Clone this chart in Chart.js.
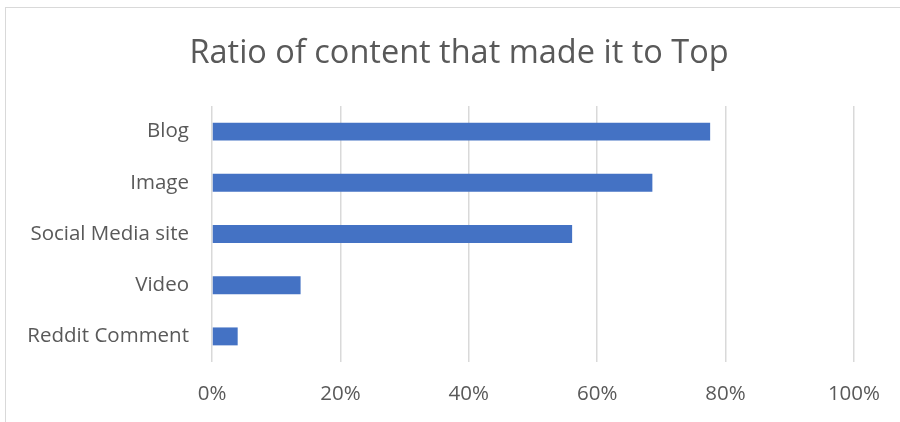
<!DOCTYPE html>
<html>
<head>
<meta charset="utf-8">
<script src="https://cdn.jsdelivr.net/npm/chart.js@4/dist/chart.umd.min.js"></script>
<style>
  body { margin: 0; background: #fff; }
  #wrap { position: relative; width: 900px; height: 422px; }
  #frame { position: absolute; left: 5px; top: 7px; width: 920px; height: 440px; border: 1px solid #d9d9d9; pointer-events: none; }
</style>
</head>
<body>
<div id="wrap">
  <canvas id="topChart" width="900" height="422"></canvas>
  <div id="frame"></div>
</div>
<script>
const categories = ["Blog", "Image", "Social Media site", "Video", "Reddit Comment"];
const ratios = [77.6, 68.6, 56.1, 13.8, 4.0];
const xTicks = [0, 20, 40, 60, 80, 100];

const textColor = '#595959';
const gridColor = '#d9d9d9';

const ctx = document.getElementById("topChart");

const topData = {
  labels: categories,
  datasets: [{
    data: ratios,
    backgroundColor: '#4472c4',
    barPercentage: 0.35,
    categoryPercentage: 1
  }]
}

const topOptions = {
  responsive: false,
  animation: false,
  indexAxis: "y",
  layout: {
    padding: { left: 18, right: 0, top: 0, bottom: 0 }
  },
  scales: {
    x: {
      min: 0,
      max: 100,
      afterBuildTicks: (scale) => {
        scale.ticks = xTicks.map(v => ({ value: v }));
      },
      afterFit: (scale) => { scale.height = 60; },
      ticks: {
        color: textColor,
        padding: 20,
        font: { family: 'Open Sans', size: 20.5 },
        callback: (v) => v + '%'
      },
      grid: {
        color: gridColor,
        lineWidth: 1.5,
        drawTicks: false
      },
      border: { display: false }
    },
    y: {
      afterFit: (scale) => { scale.width = 194; },
      ticks: {
        color: textColor,
        padding: 23,
        font: { family: 'Open Sans', size: 20.5 }
      },
      grid: { display: false, drawTicks: false },
      border: { display: false }
    },
    // empty right-hand strip so the plot ends where the original does
    yRight: {
      type: 'category',
      position: 'right',
      afterFit: (scale) => { scale.width = 45; },
      ticks: { display: false },
      grid: { display: false, drawTicks: false },
      border: { display: false }
    }
  },
  plugins: {
    legend: { display: false },
    tooltip: { enabled: false },
    title: {
      display: true,
      text: 'Ratio of content that made it to Top',
      color: textColor,
      font: { family: 'Open Sans', size: 32.5, weight: 'normal' },
      padding: { top: 34, bottom: 33 }
    }
  }
}

let topChart = new Chart(ctx, {type: 'bar', data: topData, options: topOptions})
</script>
</body>
</html>
